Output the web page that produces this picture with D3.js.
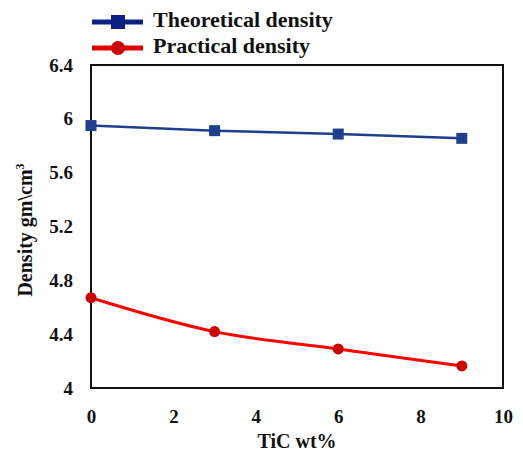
<!DOCTYPE html>
<html>
<head>
<meta charset="utf-8">
<script src="https://cdn.jsdelivr.net/npm/d3@7"></script>
<style>
  body { margin: 0; background: #fff; }
  text { font-family: "Liberation Serif", "Times New Roman", serif; font-weight: bold; fill: #111; }
</style>
</head>
<body>
<div id="chart"></div>
<script>
//Data
var ticWt = [0, 3, 6, 9];
var theoretical = [5.95, 5.912, 5.887, 5.855];
var practical = [4.671, 4.419, 4.29, 4.164];
var xTicks = [0, 2, 4, 6, 8, 10];
var yTicks = [4, 4.4, 4.8, 5.2, 5.6, 6, 6.4];

//Canvas
var W = 523, H = 452;
var margin = {top: 65, right: 20, bottom: 64, left: 91},
	w = W - margin.left - margin.right,
	h = H - margin.top - margin.bottom;

var xScale = d3.scaleLinear().domain([0, 10]).range([0, w]);
var yScale = d3.scaleLinear().domain([4, 6.4]).range([h, 0]);

var svg = d3.select("#chart").append("svg")
	.attr("width", W)
	.attr("height", H);

var g = svg.append("g")
	.attr("transform", "translate(" + margin.left + "," + margin.top + ")");

//Axes (labels only, no tick marks)
var xAxis = d3.axisBottom(xScale).tickValues(xTicks).tickSize(0).tickPadding(22)
	.tickFormat(d3.format("d"));
var yAxis = d3.axisLeft(yScale).tickValues(yTicks).tickSize(0).tickPadding(18)
	.tickFormat(function(d) { return d3.format("")(+d.toFixed(1)); });

var gx = g.append("g")
	.attr("transform", "translate(0," + h + ")")
	.call(xAxis);
var gy = g.append("g").call(yAxis);
[gx, gy].forEach(function(a) {
	a.attr("font-family", null).attr("font-size", null);
	a.select(".domain").remove();
	a.selectAll("text").style("font-size", "19px").attr("fill", "#111");
});

//Frame
g.append("rect")
	.attr("width", w)
	.attr("height", h)
	.attr("fill", "none")
	.attr("stroke", "#111")
	.attr("stroke-width", 2);

//Theoretical series
var lineT = d3.line()
	.x(function(d, i) { return xScale(ticWt[i]); })
	.y(function(d) { return yScale(d); });
g.append("path")
	.datum(theoretical)
	.attr("d", lineT)
	.attr("fill", "none")
	.attr("stroke", "#1f3f8c")
	.attr("stroke-width", 2.5);
g.selectAll(".sq")
	.data(theoretical)
	.enter().append("rect")
	.attr("class", "sq")
	.attr("x", function(d, i) { return xScale(ticWt[i]) - 5.5; })
	.attr("y", function(d) { return yScale(d) - 5.5; })
	.attr("width", 11)
	.attr("height", 11)
	.attr("fill", "#1f3f8c");

//Practical series (smoothed)
var lineP = d3.line()
	.x(function(d, i) { return xScale(ticWt[i]); })
	.y(function(d) { return yScale(d); })
	.curve(d3.curveCatmullRom.alpha(0.5));
g.append("path")
	.datum(practical)
	.attr("d", lineP)
	.attr("fill", "none")
	.attr("stroke", "#ff0000")
	.attr("stroke-width", 3);
g.selectAll(".dot")
	.data(practical)
	.enter().append("circle")
	.attr("class", "dot")
	.attr("cx", function(d, i) { return xScale(ticWt[i]); })
	.attr("cy", function(d) { return yScale(d); })
	.attr("r", 5.5)
	.attr("fill", "#cc0000");

//Axis titles
svg.append("text")
	.attr("x", margin.left + w / 2)
	.attr("y", 448)
	.attr("text-anchor", "middle")
	.attr("font-size", 20)
	.text("TiC wt%");

var yt = svg.append("text")
	.attr("transform", "translate(32," + 230 + ") rotate(-90)")
	.attr("text-anchor", "middle")
	.attr("font-size", 20);
yt.append("tspan").text("Density gm\\cm");
yt.append("tspan").attr("font-size", 12).attr("dy", -8).text("3");

//Legend
var legend = [
	{name: "Theoretical density", color: "#0d1f82", shape: "square"},
	{name: "Practical density", color: "#e00000", shape: "circle"}
];
var lg = svg.selectAll(".leg")
	.data(legend)
	.enter().append("g")
	.attr("class", "leg")
	.attr("transform", function(d, i) { return "translate(92," + (22 + i * 26) + ")"; });
lg.append("line")
	.attr("x1", 0).attr("x2", 51)
	.attr("stroke", function(d) { return d.color; })
	.attr("stroke-width", 5);
lg.filter(function(d) { return d.shape === "square"; }).append("rect")
	.attr("x", 19).attr("y", -7).attr("width", 14).attr("height", 14)
	.attr("fill", function(d) { return d.color; });
lg.filter(function(d) { return d.shape === "circle"; }).append("circle")
	.attr("cx", 26).attr("r", 7)
	.attr("fill", "#cc0000");
lg.append("text")
	.attr("x", 61)
	.attr("y", 5)
	.attr("font-size", 22)
	.text(function(d) { return d.name; });
</script>
</body>
</html>
